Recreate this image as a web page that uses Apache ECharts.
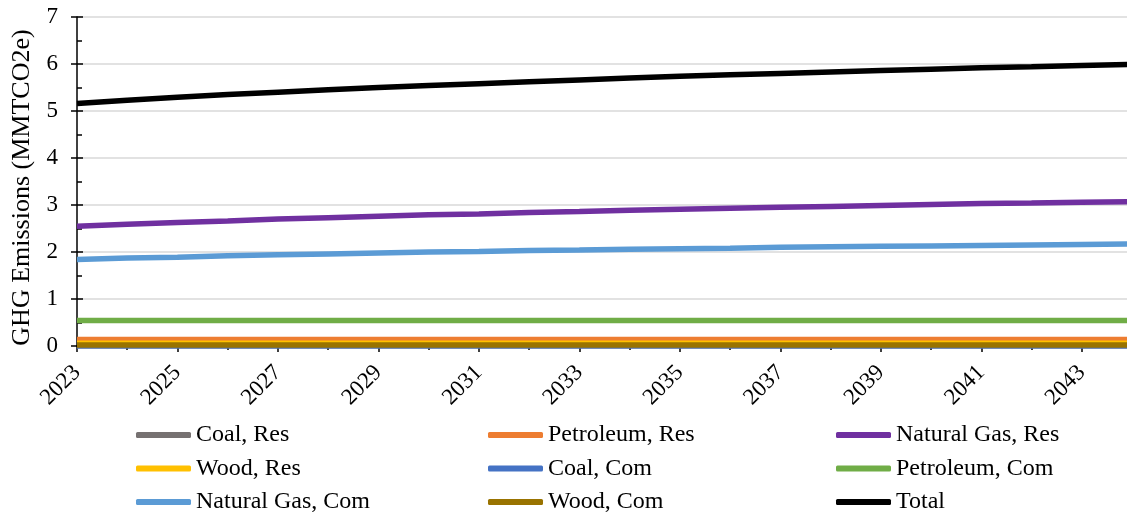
<!DOCTYPE html>
<html>
<head>
<meta charset="utf-8">
<script src="https://cdn.jsdelivr.net/npm/echarts@6/dist/echarts.min.js"></script>
<style>html,body{margin:0;padding:0;background:#fff}#c{width:1127px;height:517px}</style>
</head>
<body>
<div id="c"></div>
<script>
const years = ['2023','2024','2025','2026','2027','2028','2029','2030','2031','2032','2033','2034','2035','2036','2037','2038','2039','2040','2041','2042','2043','2044'];
const coalRes = [0,0,0,0,0,0,0,0,0,0,0,0,0,0,0,0,0,0,0,0,0,0];
const petroleumRes = [0.14,0.14,0.14,0.14,0.14,0.14,0.14,0.14,0.14,0.14,0.14,0.14,0.14,0.14,0.14,0.14,0.14,0.14,0.14,0.14,0.14,0.14];
const naturalGasRes = [2.55,2.59,2.63,2.66,2.70,2.73,2.76,2.79,2.81,2.84,2.86,2.89,2.91,2.93,2.95,2.97,2.99,3.01,3.03,3.04,3.06,3.07];
const woodRes = [0.06,0.06,0.06,0.06,0.06,0.06,0.06,0.06,0.06,0.06,0.06,0.06,0.06,0.06,0.06,0.06,0.06,0.06,0.06,0.06,0.06,0.06];
const coalCom = [0,0,0,0,0,0,0,0,0,0,0,0,0,0,0,0,0,0,0,0,0,0];
const petroleumCom = [0.54,0.54,0.54,0.54,0.54,0.54,0.54,0.54,0.54,0.54,0.54,0.54,0.54,0.54,0.54,0.54,0.54,0.54,0.54,0.54,0.54,0.54];
const naturalGasCom = [1.84,1.87,1.89,1.92,1.94,1.96,1.98,2.00,2.01,2.03,2.04,2.06,2.07,2.08,2.10,2.11,2.12,2.13,2.14,2.15,2.16,2.17];
const woodCom = [0.02,0.02,0.02,0.02,0.02,0.02,0.02,0.02,0.02,0.02,0.02,0.02,0.02,0.02,0.02,0.02,0.02,0.02,0.02,0.02,0.02,0.02];
const total = [5.16,5.23,5.29,5.35,5.40,5.45,5.50,5.54,5.58,5.62,5.66,5.70,5.74,5.77,5.80,5.83,5.86,5.89,5.92,5.94,5.97,5.99];

const names = ['Coal, Res','Petroleum, Res','Natural Gas, Res','Wood, Res','Coal, Com','Petroleum, Com','Natural Gas, Com','Wood, Com','Total'];
const values = [coalRes,petroleumRes,naturalGasRes,woodRes,coalCom,petroleumCom,naturalGasCom,woodCom,total];
const colors = ['#767171','#ED7D31','#7030A0','#FFC000','#4472C4','#70AD47','#5B9BD5','#997300','#000000'];

const font = '"Liberation Serif","Times New Roman",serif';
const chart = echarts.init(document.getElementById('c'), null, {renderer:'canvas'});

const legendBase = {
  orient:'vertical', top:423, itemWidth:55, itemHeight:6, itemGap:9.5,
  icon:'roundRect',
  textStyle:{fontFamily:font, fontSize:24, color:'#000', lineHeight:24},
  padding:0
};

chart.setOption({
  animation:false,
  grid:{left:77, right:-5, top:17, bottom:171, containLabel:false, outerBoundsMode:'none'},
  legend:[
    Object.assign({}, legendBase, {left:136, data:['Coal, Res','Wood, Res','Natural Gas, Com']}),
    Object.assign({}, legendBase, {left:488, data:['Petroleum, Res','Coal, Com','Wood, Com']}),
    Object.assign({}, legendBase, {left:836, data:['Natural Gas, Res','Petroleum, Com','Total']})
  ],
  xAxis:[
    {type:'category', data:years, boundaryGap:false,
     axisLine:{show:true, lineStyle:{color:'#000', width:1.5}},
     axisTick:{show:true, interval:1, length:6, lineStyle:{color:'#000', width:1.5}},
     axisLabel:{interval:1, rotate:45, margin:23, fontFamily:font, fontSize:23, color:'#000'},
     splitLine:{show:false}},
    {type:'category', data:years, boundaryGap:false, position:'bottom',
     axisLine:{show:false},
     axisTick:{show:true, interval:0, length:4, lineStyle:{color:'#000', width:1.5}},
     axisLabel:{show:false}, splitLine:{show:false}}
  ],
  yAxis:[
    {type:'value', min:0, max:7, interval:1,
     name:'GHG Emissions (MMTCO2e)', nameLocation:'middle', nameGap:42,
     nameTextStyle:{fontFamily:font, fontSize:26, color:'#000', padding:[0,12,0,0]},
     axisLine:{show:true, lineStyle:{color:'#000', width:1.5}},
     axisTick:{show:true, length:6, lineStyle:{color:'#000', width:1.5}},
     axisLabel:{margin:19, fontFamily:font, fontSize:23, color:'#000'},
     splitLine:{show:true, lineStyle:{color:'#d9d9d9', width:1.5}}},
    {type:'value', min:0, max:7, interval:1, position:'left',
     axisLine:{show:false},
     axisTick:{show:true, inside:true, length:6, lineStyle:{color:'#000', width:1.5}},
     minorTick:{show:true, splitNumber:2, length:5, lineStyle:{color:'#000', width:1.5}},
     axisLabel:{show:false}, splitLine:{show:false}}
  ],
  series: names.map((n,i)=>({
    name:n, type:'line', data:values[i], xAxisIndex:0, yAxisIndex:0,
    showSymbol:false, symbol:'none', smooth:false,
    lineStyle:{color:colors[i], width:5.5},
    itemStyle:{color:colors[i]},
    z: 2+i
  }))
});
</script>
</body>
</html>
